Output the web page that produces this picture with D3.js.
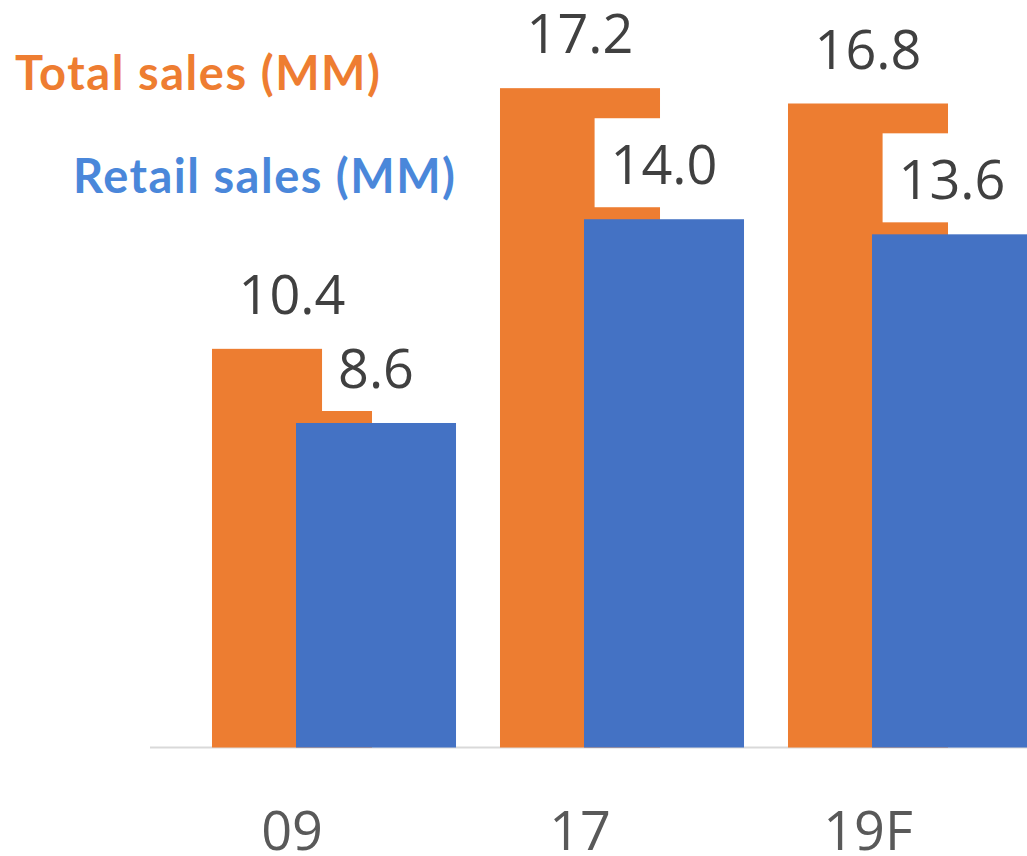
<!DOCTYPE html>
<html>
<head>
<meta charset="utf-8">
<script src="https://cdn.jsdelivr.net/npm/d3@7"></script>
<style>
  html, body { margin: 0; padding: 0; background: #fff; }
  svg { display: block; }
</style>
</head>
<body>
<script>
// values
const categories = ["09", "17", "19F"]
const totalSales = [10.4, 17.2, 16.8]
const retailSales = [8.6, 14.0, 13.6]
const seriesNames = ["Total sales (MM)", "Retail sales (MM)"]

const width = 1027, height = 856
const baseY = 747.5
const orange = "#ED7D31", blue = "#4472C4"

const svg = d3.select("body").append("svg")
    .attr("width", width)
    .attr("height", height)

// band for the orange series, blue sits shifted right (secondary axis look)
const x = d3.scaleBand()
    .domain(categories)
    .range([148, 1012])
    .paddingInner(0.4444)
    .paddingOuter(0.2222)

const yTotal = d3.scaleLinear().domain([0, 19.5]).range([baseY, 0])
const yRetail = d3.scaleLinear().domain([0, 19.81]).range([baseY, 0])

const bw = x.bandwidth()
const shift = bw * 0.525

const data = categories.map((c, i) => ({cat: c, total: totalSales[i], retail: retailSales[i]}))

// baseline
svg.append("line")
    .attr("x1", 150).attr("x2", width)
    .attr("y1", baseY).attr("y2", baseY)
    .attr("stroke", "#d9d9d9").attr("stroke-width", 2)

// bars
svg.append("g").selectAll("rect")
    .data(data)
    .join("rect")
    .attr("x", d => x(d.cat))
    .attr("y", d => yTotal(d.total))
    .attr("width", bw)
    .attr("height", d => baseY - yTotal(d.total))
    .attr("fill", orange)

svg.append("g").selectAll("rect")
    .data(data)
    .join("rect")
    .attr("x", d => x(d.cat) + shift)
    .attr("y", d => yRetail(d.retail))
    .attr("width", bw)
    .attr("height", d => baseY - yRetail(d.retail))
    .attr("fill", blue)

// data labels with white boxes behind
const labels = []
data.forEach(d => {
    labels.push({v: d.total, cx: x(d.cat) + bw / 2, top: yTotal(d.total)})
    labels.push({v: d.retail, cx: x(d.cat) + shift + bw / 2, top: yRetail(d.retail)})
})

const lg = svg.append("g")
labels.forEach(l => {
    const base = l.top - 35
    const box = lg.append("rect").attr("fill", "#fff")
    const t = lg.append("text")
        .attr("x", l.cx)
        .attr("y", base)
        .attr("text-anchor", "middle")
        .attr("font-family", "'Open Sans', sans-serif")
        .attr("font-size", 54)
        .attr("fill", "#404040")
        .text(l.v.toFixed(1))
    const w = t.node().getComputedTextLength() + 32
    box.attr("x", l.cx - w / 2).attr("width", w)
        .attr("y", base - 66).attr("height", 89)
})

// category axis
const axis = svg.append("g")
    .attr("transform", `translate(0,${baseY})`)
    .call(d3.axisBottom(x).tickSize(0))
axis.select(".domain").remove()
axis.selectAll("text")
    .attr("y", 850 - baseY)
    .attr("dy", 0)
    .attr("font-family", "'Open Sans', sans-serif")
    .attr("font-size", 54)
    .attr("fill", "#595959")

// legend texts
svg.append("text")
    .attr("x", 15).attr("y", 90)
    .attr("font-family", "Lato, sans-serif")
    .attr("font-weight", "bold")
    .attr("font-size", 47)
    .attr("textLength", 365)
    .attr("lengthAdjust", "spacing")
    .attr("fill", "#EE7D31")
    .text(seriesNames[0])

svg.append("text")
    .attr("x", 73).attr("y", 193)
    .attr("font-family", "Lato, sans-serif")
    .attr("font-weight", "bold")
    .attr("font-size", 47)
    .attr("textLength", 382)
    .attr("lengthAdjust", "spacing")
    .attr("fill", "#4A87DA")
    .text(seriesNames[1])
</script>
</body>
</html>
